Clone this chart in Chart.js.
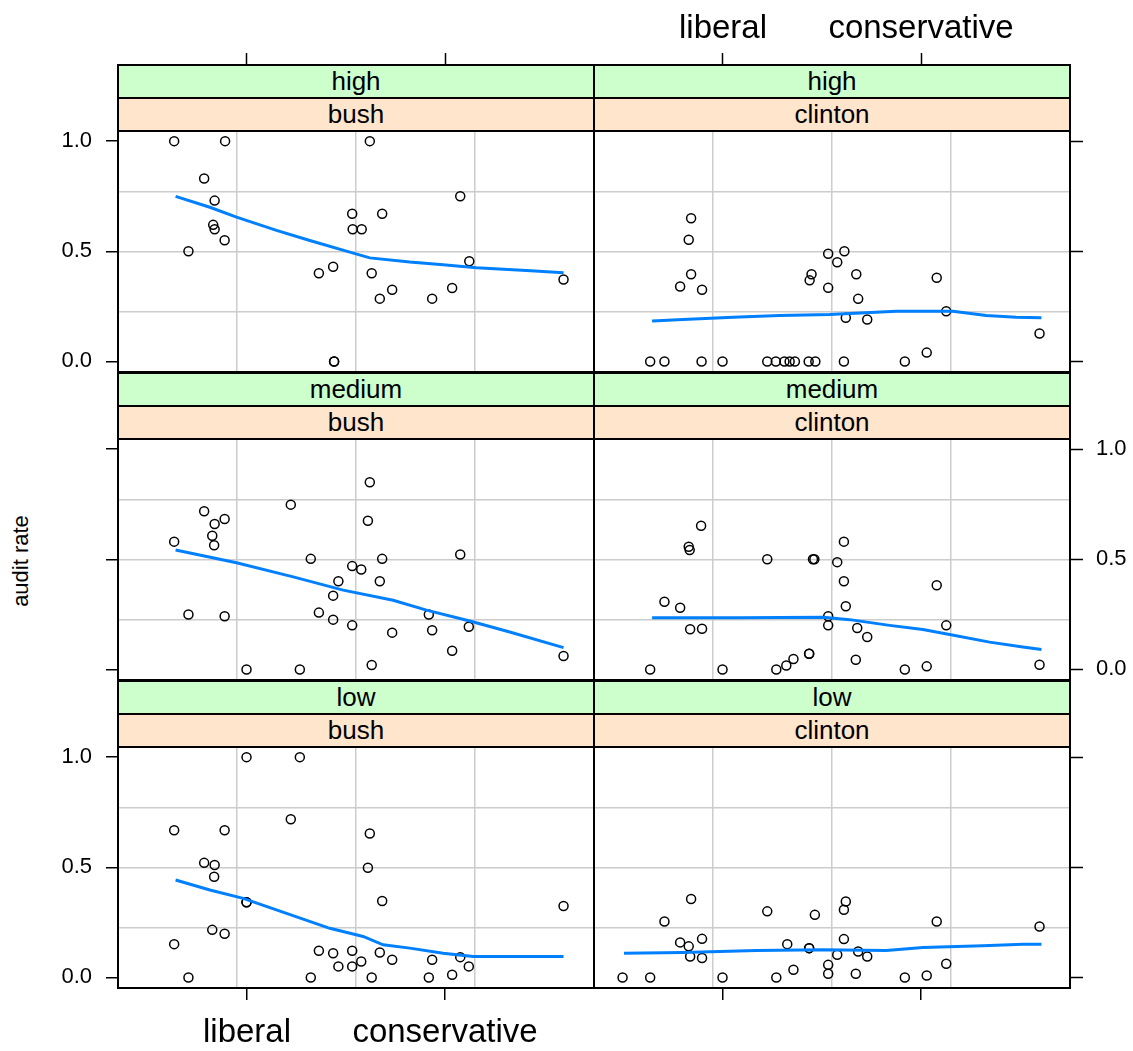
<!DOCTYPE html>
<html lang="en">
<head>
<meta charset="UTF-8">
<title>Audit rate by ideology</title>
<script src="https://cdn.jsdelivr.net/npm/chart.js@4.4.3/dist/chart.umd.min.js"></script>
<style>
  body { margin: 0; background: #fff; font-family: "Liberation Sans", Arial, sans-serif; }
  #page { position: relative; width: 1133px; height: 1051px; overflow: hidden; }
  .cell { position: absolute; }
  .strip {
    position: absolute; box-sizing: border-box; border: 2px solid #000;
    text-align: center; font-size: 26px; line-height: 31px; color: #000; z-index: 2;
  }
  .outer { background: #ccffcc; }
  .inner { background: #ffe5cc; }
  #ylab {
    position: absolute; left: 21px; top: 561px; font-size: 22px; white-space: nowrap;
    transform: translate(-50%, -50%) rotate(-90deg);
  }
</style>
</head>
<body>
<div id="page">
  <div id="ylab">audit rate</div>
</div>

<script>
// conditioning variables
const rateLevels = ['high', 'medium', 'low'];
const presidents = ['bush', 'clinton'];

// axis ticks
const ideologyTicks = [27.1, 68.7];
const ideologyLabels = ['liberal', 'conservative'];
const rateTicks = [0, 0.5, 1];

// points [ideology, audit rate] and loess fit per panel
const highBushPts = [[11.8,1.0],[22.5,1.0],[52.9,1.0],[18.1,0.83],[20.3,0.73],[71.9,0.75],[49.2,0.67],[55.5,0.67],
  [20.0,0.62],[20.3,0.60],[49.3,0.60],[51.2,0.60],[22.4,0.55],[14.8,0.50],[73.8,0.455],[42.2,0.40],[45.2,0.43],
  [53.3,0.40],[57.6,0.325],[55.0,0.285],[66.0,0.285],[70.2,0.333],[93.6,0.372],[45.4,0],[45.4,0]];
const highBushFit = [[12.1,0.749],[19.3,0.700],[24.9,0.655],[33.3,0.595],[40.3,0.549],[48.7,0.496],[52.9,0.470],
  [61.3,0.451],[68.3,0.439],[75.3,0.425],[85.8,0.413],[93.6,0.402]];

const highClintonPts = [[20.4,0.65],[19.9,0.552],[20.4,0.396],[18.1,0.34],[22.7,0.325],[45.7,0.396],[45.3,0.368],
  [49.2,0.489],[52.6,0.50],[51.1,0.45],[49.2,0.334],[55.1,0.396],[55.5,0.284],[52.9,0.198],[57.4,0.19],[72.0,0.38],
  [74.0,0.228],[69.9,0.04],[93.6,0.127],[11.8,0],[14.8,0],[22.6,0],[27.0,0],[36.4,0],[38.2,0],[40.0,0],[41.1,0],
  [42.2,0],[45.1,0],[46.5,0],[52.5,0],[65.3,0]];
const highClintonFit = [[12.2,0.183],[18.7,0.19],[29.2,0.20],[39.0,0.209],[49.5,0.213],[63.5,0.228],[75.4,0.228],
  [82.4,0.209],[88.7,0.201],[94.0,0.198]];

const mediumBushPts = [[52.9,0.85],[36.3,0.748],[18.1,0.718],[22.4,0.683],[20.3,0.66],[52.5,0.675],[19.8,0.607],
  [20.2,0.564],[11.8,0.58],[40.5,0.502],[55.5,0.502],[71.9,0.522],[49.2,0.469],[51.1,0.454],[46.3,0.40],[55.0,0.40],
  [45.2,0.335],[14.8,0.249],[22.4,0.241],[42.2,0.258],[45.2,0.226],[49.2,0.20],[57.6,0.167],[65.3,0.249],[66.0,0.178],
  [73.7,0.194],[70.2,0.085],[93.6,0.061],[27.0,0],[38.2,0],[53.3,0.02]];
const mediumBushFit = [[12.1,0.542],[24.9,0.484],[36.8,0.42],[47.3,0.36],[57.8,0.314],[64.8,0.269],[73.9,0.22],
  [82.3,0.17],[93.6,0.099]];

const mediumClintonPts = [[22.5,0.652],[19.9,0.557],[20.1,0.542],[36.4,0.50],[46.0,0.50],[46.3,0.50],[52.5,0.58],
  [51.1,0.487],[52.5,0.40],[52.9,0.287],[49.2,0.241],[49.2,0.20],[14.8,0.307],[18.1,0.28],[20.2,0.182],[22.7,0.185],
  [72.0,0.382],[74.0,0.20],[55.3,0.188],[57.4,0.147],[45.2,0.071],[45.2,0.071],[55.0,0.044],[41.9,0.047],[40.4,0.018],
  [38.3,0],[11.8,0],[27.0,0],[65.3,0],[69.9,0.014],[93.6,0.021]];
const mediumClintonFit = [[12.2,0.235],[30.6,0.235],[48.1,0.237],[53.7,0.226],[62.1,0.20],[69.1,0.181],[74.7,0.159],
  [83.1,0.124],[90.1,0.102],[94.0,0.09]];

const lowBushPts = [[27.0,1.0],[38.2,1.0],[36.3,0.718],[11.8,0.668],[22.4,0.668],[52.9,0.653],[18.1,0.52],[20.3,0.51],
  [20.2,0.457],[52.5,0.498],[27.0,0.341],[27.0,0.341],[55.5,0.347],[93.6,0.324],[19.8,0.216],[22.4,0.198],[11.8,0.151],
  [14.8,0],[40.5,0],[42.2,0.121],[45.2,0.11],[49.2,0.121],[51.1,0.072],[49.2,0.05],[46.3,0.05],[53.3,0],[55.0,0.113],
  [57.6,0.08],[66.0,0.08],[65.3,0],[70.2,0.012],[71.9,0.092],[73.7,0.05]];
const lowBushFit = [[12.1,0.442],[19.3,0.397],[26.3,0.359],[35.4,0.291],[44.5,0.223],[51.5,0.186],[55.7,0.148],
  [61.3,0.133],[68.3,0.11],[74.6,0.095],[93.6,0.095]];

const lowClintonPts = [[20.4,0.356],[14.8,0.254],[36.4,0.30],[46.4,0.284],[52.9,0.345],[52.5,0.307],[72.0,0.254],
  [93.6,0.231],[18.1,0.159],[19.9,0.141],[22.7,0.175],[20.2,0.095],[22.7,0.088],[40.6,0.151],[45.2,0.133],[45.2,0.133],
  [52.5,0.174],[51.1,0.103],[55.5,0.118],[57.4,0.095],[49.2,0.057],[49.2,0.017],[41.9,0.035],[55.0,0.017],[74.0,0.062],
  [6.0,0],[11.8,0],[27.0,0],[38.3,0],[65.3,0],[69.9,0.009]];
const lowClintonFit = [[6.3,0.110],[18.7,0.113],[34.1,0.122],[48.1,0.126],[61.4,0.122],[69.1,0.136],[81.7,0.144],
  [90.1,0.151],[94.0,0.151]];

const panelPts = [[highBushPts, highClintonPts], [mediumBushPts, mediumClintonPts], [lowBushPts, lowClintonPts]];
const panelFit = [[highBushFit, highClintonFit], [mediumBushFit, mediumClintonFit], [lowBushFit, lowClintonFit]];

// layout (pixels)
const PAGE_W = 1133, PAGE_H = 1051;
const COL_LEFT = [118, 594];
const COL_W = 476;
const ROW_TOP = [65, 373, 681];
const STRIP_H = 33;
const PANEL_H = 241;
const ROW_H = 2 * STRIP_H + PANEL_H;

// value ranges, the strips sit inside the chart area above the panel
const X_MIN = 0, X_MAX = 100;
const Y_MIN = -0.048, Y_MAX = 1.046;
const Y_TOP = Y_MAX + (2 * STRIP_H / PANEL_H) * (Y_MAX - Y_MIN);
const gridX = [1, 2, 3].map(k => X_MIN + k * (X_MAX - X_MIN) / 4);
const gridY = [1, 2, 3].map(k => Y_MIN + k * (Y_MAX - Y_MIN) / 4);

const GRID = '#cccccc';
const NONE = 'rgba(0,0,0,0)';
const FONT = '"Liberation Sans", Arial, sans-serif';

Chart.defaults.font.family = FONT;
Chart.defaults.color = '#000';

const page = document.getElementById('page');

function setTicks(values) {
  return scale => { scale.ticks = values.slice().sort((a, b) => a - b).map(v => ({ value: v })); };
}

// fixed axis size, and no extra room for overhanging tick labels
function fixSize(prop, size) {
  return s => {
    s[prop] = size;
    s.paddingTop = 0; s.paddingBottom = 0; s.paddingLeft = 0; s.paddingRight = 0;
  };
}

function makePanel(r, c) {
  const m = {
    l: c === 0 ? COL_LEFT[0] : 6,
    r: c === 1 ? PAGE_W - (COL_LEFT[1] + COL_W) : 6,
    t: r === 0 ? ROW_TOP[0] : 6,
    b: r === 2 ? PAGE_H - (ROW_TOP[2] + ROW_H) : 6
  };
  const w = m.l + COL_W + m.r, h = m.t + ROW_H + m.b;

  const cell = document.createElement('div');
  cell.className = 'cell';
  cell.style.left = (COL_LEFT[c] - m.l) + 'px';
  cell.style.top = (ROW_TOP[r] - m.t) + 'px';
  cell.style.width = w + 'px';
  cell.style.height = h + 'px';
  const canvas = document.createElement('canvas');
  canvas.width = w; canvas.height = h;
  cell.appendChild(canvas);
  page.appendChild(cell);

  // strips
  [[rateLevels[r], 'outer', 0], [presidents[c], 'inner', STRIP_H]].forEach(([txt, cls, off]) => {
    const s = document.createElement('div');
    s.className = 'strip ' + cls;
    s.textContent = txt;
    s.style.left = (COL_LEFT[c] - 1) + 'px';
    s.style.top = (ROW_TOP[r] + off - 1) + 'px';
    s.style.width = (COL_W + 2) + 'px';
    s.style.height = (STRIP_H + 2) + 'px';
    page.appendChild(s);
  });

  const border = { display: true, color: '#000', width: 2 };
  const bottomTicks = r === 2, topTicks = r === 0;
  const leftTicks = c === 0, rightTicks = c === 1;

  new Chart(canvas, {
    type: 'scatter',
    data: {
      datasets: [
        {
          data: panelFit[r][c].map(([x, y]) => ({ x, y })),
          showLine: true, borderColor: '#0080ff', borderWidth: 3,
          pointRadius: 0, tension: 0, order: 0
        },
        {
          data: panelPts[r][c].map(([x, y]) => ({ x, y })),
          pointStyle: 'circle', pointRadius: 4.5, borderColor: '#000', borderWidth: 1.5,
          backgroundColor: NONE, order: 1
        }
      ]
    },
    options: {
      responsive: false,
      animation: false,
      events: [],
      layout: { padding: 0 },
      plugins: { legend: { display: false }, tooltip: { enabled: false } },
      scales: {
        x: {
          type: 'linear', position: 'bottom', min: X_MIN, max: X_MAX,
          afterBuildTicks: setTicks(gridX.concat(bottomTicks ? ideologyTicks : [])),
          afterFit: fixSize('height', m.b),
          border,
          grid: {
            drawTicks: bottomTicks, tickLength: 12, lineWidth: 1.5, tickWidth: 1.5,
            color: ctx => (ctx.tick && gridX.includes(ctx.tick.value)) ? GRID : NONE,
            tickColor: ctx => (ctx.tick && ideologyTicks.includes(ctx.tick.value)) ? '#000' : NONE
          },
          ticks: {
            display: bottomTicks && c === 0, autoSkip: false, maxRotation: 0, minRotation: 0,
            padding: 13, font: { size: 33 },
            callback: v => { const i = ideologyTicks.indexOf(v); return i >= 0 ? ideologyLabels[i] : ''; }
          }
        },
        x2: {
          type: 'linear', position: 'top', min: X_MIN, max: X_MAX,
          afterBuildTicks: setTicks(ideologyTicks),
          afterFit: fixSize('height', m.t),
          border,
          grid: { drawOnChartArea: false, drawTicks: topTicks, tickLength: 12, tickWidth: 1.5, tickColor: '#000' },
          ticks: {
            display: topTicks && c === 1, autoSkip: false, maxRotation: 0, minRotation: 0,
            padding: 4, font: { size: 33 },
            callback: v => { const i = ideologyTicks.indexOf(v); return i >= 0 ? ideologyLabels[i] : ''; }
          }
        },
        y: {
          type: 'linear', position: 'left', min: Y_MIN, max: Y_TOP,
          afterBuildTicks: setTicks(gridY.concat(leftTicks ? rateTicks : [])),
          afterFit: fixSize('width', m.l),
          border,
          grid: {
            drawTicks: leftTicks, tickLength: 12, lineWidth: 1.5, tickWidth: 1.5,
            color: ctx => (ctx.tick && gridY.includes(ctx.tick.value)) ? GRID : NONE,
            tickColor: ctx => (ctx.tick && rateTicks.includes(ctx.tick.value)) ? '#000' : NONE
          },
          ticks: {
            display: leftTicks && r !== 1, autoSkip: false, padding: 14, font: { size: 22 },
            callback: v => rateTicks.includes(v) ? v.toFixed(1) : ''
          }
        },
        y2: {
          type: 'linear', position: 'right', min: Y_MIN, max: Y_TOP,
          afterBuildTicks: setTicks(rateTicks),
          afterFit: fixSize('width', m.r),
          border,
          grid: { drawOnChartArea: false, drawTicks: rightTicks, tickLength: 13, tickWidth: 1.5, tickColor: '#000' },
          ticks: {
            display: rightTicks && r === 1, autoSkip: false, padding: 13, font: { size: 22 },
            callback: v => v.toFixed(1)
          }
        }
      }
    }
  });
}

for (let r = 0; r < rateLevels.length; r++) {
  for (let c = 0; c < presidents.length; c++) makePanel(r, c);
}
</script>
</body>
</html>
